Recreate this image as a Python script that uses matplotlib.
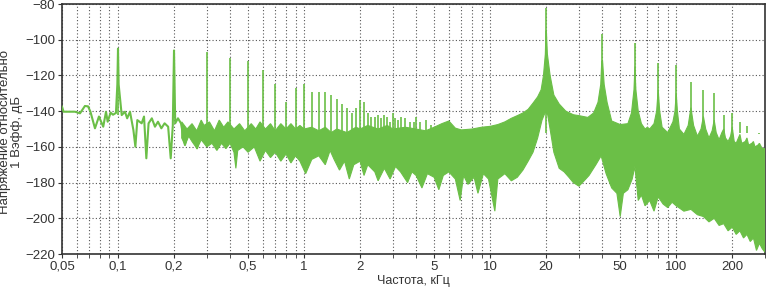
import numpy as np
import matplotlib.pyplot as plt
from matplotlib.ticker import FixedLocator, FixedFormatter, NullFormatter

plt.rcParams['font.family'] = ['Liberation Sans', 'DejaVu Sans']
plt.rcParams['font.size'] = 9.5

green = '#6bbf47'

# low-frequency trace, kHz / dB
lf_freq = [0.05, 0.051, 0.055, 0.0587, 0.0625, 0.0664, 0.069, 0.0711, 0.0752, 0.079,
           0.0833, 0.0862, 0.088, 0.0913, 0.094, 0.0975, 0.0992, 0.1, 0.1008, 0.1047,
           0.109, 0.112, 0.116, 0.121, 0.124, 0.127, 0.134, 0.138, 0.142, 0.146,
           0.152, 0.158, 0.164, 0.171, 0.178, 0.186, 0.192, 0.197, 0.2, 0.203,
           0.21, 0.218, 0.229, 0.238, 0.249, 0.259, 0.266, 0.276]
lf_db = [-137.5, -140.3, -140.3, -140.3, -141.2, -137.1, -137.3, -140.3, -149.6, -143,
         -148.7, -140.3, -145.9, -140.8, -142, -141, -125, -105, -125, -142.2,
         -140.3, -144, -140.3, -150.6, -159.9, -145, -146.8, -143, -166.4, -146.8,
         -144, -148.7, -145.9, -149.6, -146.8, -148.7, -166.4, -148, -106, -146.8,
         -144, -146.8, -159, -152.4, -155.2, -150.6, -160.8, -152.4]

# upper edge of the dense noise band
top_freq = [0.22, 0.235, 0.25, 0.265, 0.28, 0.29, 0.31, 0.33, 0.35, 0.37, 0.39, 0.42,
            0.45, 0.48, 0.52, 0.55, 0.58, 0.62, 0.66, 0.7, 0.75, 0.8, 0.85, 0.9, 0.95,
            1.0, 1.1, 1.2, 1.3, 1.4, 1.5, 1.7, 1.9, 2.0, 2.2, 2.5, 2.8, 3.0, 3.5, 4.0,
            4.5, 5.0, 5.5, 6.0, 6.5, 7.0, 8.0, 9.0, 10, 11, 12, 13, 14, 15, 16, 17,
            18, 18.8, 19.35, 19.8, 19.95, 20.05, 20.3, 21, 22, 23.5, 25.5, 28, 30,
            33.5, 36, 38, 39.3, 39.8, 40.2, 41, 42.5, 45, 50, 55, 57.5, 59.3, 60,
            60.7, 62.5, 65, 68, 70, 72, 76, 78.5, 80, 81.5, 84, 90, 96, 98.5, 100,
            101.5, 104, 110, 116, 120, 124, 130, 136, 140, 144, 150, 156, 160, 164,
            170, 176, 180, 184, 190, 196, 200, 205, 210, 216, 220, 225, 235, 240,
            245, 255, 260, 265, 275, 280, 290, 300]
top_db = [-146, -150, -147, -151, -145, -148, -146, -151, -145, -149, -146, -150,
          -147, -151, -147, -150, -146, -150, -147, -151, -147, -150, -147, -150, -148,
          -150, -149, -151, -149, -152, -150, -152, -149, -150, -148, -150, -148, -150, -149, -150,
          -151, -149, -147, -145.5, -149.5, -150.5, -150, -149, -148.5, -147.5, -146, -144, -142.5, -141, -139, -135.5,
          -132, -128, -120, -108, -95, -95, -108, -120, -131, -136, -140, -142, -142.5,
          -143.5, -141, -135, -125, -112, -112, -125, -135, -145.5, -147.5, -147, -141, -128, -115,
          -128, -140, -147, -150, -149, -150, -147, -140, -128, -140, -149, -152, -146, -140, -130,
          -140, -150, -153, -148, -138, -148, -154, -150, -143, -150, -155, -151, -145, -152,
          -156, -152, -150, -155, -157, -154, -149, -157, -158, -155, -153, -158, -157, -155,
          -159, -158, -157, -160, -159, -158, -161, -161]

# lower edge of the noise band, with its deepest dips
bot_freq = [0.22, 0.229, 0.24, 0.25, 0.266, 0.28, 0.3, 0.32, 0.34, 0.36, 0.38, 0.4,
            0.42, 0.43, 0.44, 0.47, 0.5, 0.54, 0.58, 0.62, 0.66, 0.7, 0.75, 0.8, 0.85,
            0.9, 0.95, 1.02, 1.1, 1.2, 1.3, 1.38, 1.45, 1.55, 1.65, 1.75, 1.85, 2.0,
            2.1, 2.2, 2.4, 2.5, 2.7, 2.9, 3.1, 3.3, 3.6, 3.8, 4.0, 4.3, 4.6, 5.0, 5.3,
            5.6, 6.0, 6.5, 6.9, 7.2, 7.6, 8.2, 8.6, 9.2, 9.8, 10.6, 11, 12, 13, 14, 15,
            16, 17, 18, 19, 19.7, 20.3, 21, 22, 23.5, 25, 26.5, 28, 30, 32, 34, 37,
            39.5, 42, 45, 48, 50, 52, 55, 58, 60, 62.5, 65, 68, 72, 76, 80, 85, 90,
            95, 100, 110, 120, 130, 140, 150, 160, 170, 180, 190, 200, 210, 220, 230,
            240, 250, 260, 270, 280, 290, 300]
bot_db = [-155, -159, -154, -157, -161, -156, -160, -158, -162, -158, -161, -158,
          -163, -172, -162, -160, -163, -160, -168, -162, -166, -163, -168, -164, -169,
          -165, -168, -175, -167, -165, -170, -162, -167, -173, -168, -178, -170, -168,
          -176, -170, -174, -179, -172, -178, -171, -174, -180, -174, -176, -183, -175, -177, -184,
          -176, -174, -178, -190, -176, -181, -177, -186, -175, -178, -196, -178, -175, -179, -177, -173,
          -168, -163, -155, -145, -141, -141, -150, -163, -172, -174, -177, -180, -182, -179, -176, -170,
          -165, -175, -183, -186, -199, -186, -184, -178, -171, -190, -187, -193, -190, -196, -188, -192, -194,
          -191, -193, -196, -195, -198, -199, -202, -200, -204, -203, -207, -205, -209, -207, -211,
          -209, -213, -211, -218, -214, -217, -219]

# harmonic lines
harm_freq = [0.1, 0.2, 0.3, 0.4, 0.5, 0.6, 0.7, 0.8, 0.9, 1.0, 1.1, 1.2, 1.3, 1.4,
             1.5, 1.6, 1.7, 1.8, 1.9, 2.0, 2.1, 2.2, 2.3, 2.4, 2.5, 2.6, 2.7, 2.8,
             2.9, 3.0, 3.1, 3.2, 3.3, 3.5, 3.7, 3.9, 4.0, 4.2, 4.5, 4.8,
             20, 40, 60, 80, 100, 120, 140, 160, 180, 200, 220, 240, 260, 280]
harm_db = [-105, -106, -107, -110, -112, -117, -125, -135, -127, -125, -129, -129, -129, -131,
           -133, -136, -138, -141, -138, -134, -135, -141, -143, -143, -142, -144, -142, -143,
           -146, -141, -144, -145, -143, -144, -146, -146, -143, -146, -145, -148,
           -82, -97, -102, -113, -114, -123.5, -128, -130, -142, -141, -146, -148.5, -152, -153]

x_major = [0.05, 0.1, 0.2, 0.5, 1, 2, 5, 10, 20, 50, 100, 200]
x_labels = ['0,05', '0,1', '0,2', '0,5', '1', '2', '5', '10', '20', '50', '100', '200']
x_minor = [0.06, 0.07, 0.08, 0.09, 0.3, 0.4, 0.6, 0.7, 0.8, 0.9, 3, 4, 6, 7, 8, 9,
           30, 40, 60, 70, 80, 90, 300]

fig = plt.figure(figsize=(7.7, 2.88), dpi=100)
ax = fig.add_axes([0.0805, 0.118, 0.913, 0.868])

band_f = np.concatenate([top_freq, bot_freq[::-1]])
band_d = np.concatenate([top_db, bot_db[::-1]])
ax.fill(band_f, band_d, color=green, lw=0.8, ec=green, zorder=3)
ax.plot(lf_freq, lf_db, color=green, lw=1.5, zorder=3)
hf = np.array(harm_freq)
ax.vlines(hf, np.where(hf < 0.25, -142, -152), harm_db, color=green, lw=1.2, zorder=3)

ax.set_xscale('log')
ax.set_xlim(0.05, 300)
ax.set_ylim(-220, -80)
ax.xaxis.set_major_locator(FixedLocator(x_major))
ax.xaxis.set_major_formatter(FixedFormatter(x_labels))
ax.xaxis.set_minor_locator(FixedLocator(x_minor))
ax.xaxis.set_minor_formatter(NullFormatter())
ax.set_yticks(np.arange(-220, -79, 20))

grid_kw = dict(color='#555555', linestyle=(0, (1, 2)), lw=0.8)
ax.grid(True, which='both', axis='x', **grid_kw)
ax.grid(True, which='major', axis='y', **grid_kw)
ax.set_axisbelow(True)
ax.tick_params(which='both', direction='out', length=3, color='#333333',
               labelcolor='#333333', pad=2)
for s in ax.spines.values():
    s.set_linewidth(1.2)
    s.set_color('#333333')

fig.text(0.537, 0.025, 'Частота, кГц', color='#333333', ha='center', va='center', fontsize=9)
fig.text(0.0145, 0.54, 'Напряжение относительно\n1 Вэфф, дБ', color='#333333',
         ha='center', va='center', rotation=90, fontsize=9.5, linespacing=1.0)

fig.savefig('out.png', dpi=100)
